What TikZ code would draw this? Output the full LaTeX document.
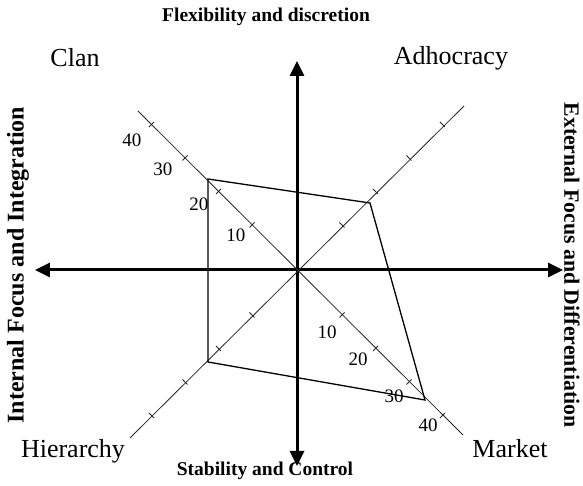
\documentclass[tikz,border=0pt]{standalone}
\usepackage{fontspec}
\setmainfont{Liberation Serif}
\usetikzlibrary{arrows.meta}

\tikzset{
  axis/.style = {line width=3pt, {Triangle[length=15pt,width=14pt]}-{Triangle[length=15pt,width=14pt]}},
  diag/.style = {line width=0.8pt, black!85},
  profile/.style = {line width=1.3pt},
  quad/.style = {font=\fontsize{26}{30}\selectfont, anchor=base},
  dimtitle/.style = {font=\bfseries\fontsize{19.5}{22}\selectfont, anchor=base},
  sidetitle/.style = {font=\bfseries\fontsize{#1}{26}\selectfont},
  num/.style = {font=\fontsize{19}{22}\selectfont}
}

\begin{document}
\begin{tikzpicture}[x=1pt, y=1pt]
\useasboundingbox (-297,-216) rectangle (286,270);
\coordinate (w) at (-262,0);
\coordinate (e) at (266,0);
\coordinate (n) at (0,209);
\coordinate (s) at (0,-196);
\draw[axis] (w) -- (e);
\draw[axis] (s) -- (n);
\coordinate (nw) at (-159,159);
\coordinate (se) at (166,-165);
\coordinate (sw) at (-167,-168);
\coordinate (ne) at (167,164);
\draw[diag] (nw) -- (se);
\draw[diag] (sw) -- (ne);
\foreach \d in {45,78.5,112,145.5} {
  \draw[diag] (-\d-2.5,\d-2.5) -- (-\d+2.5,\d+2.5);
  \draw[diag] (\d-2.5,-\d-2.5) -- (\d+2.5,-\d+2.5);
  \draw[diag] (\d-2.5,\d+2.5) -- (\d+2.5,\d-2.5);
  \draw[diag] (-\d-2.5,-\d+2.5) -- (-\d+2.5,-\d-2.5);
}
% culture profile
\coordinate (pclan) at (-89,91);
\coordinate (padh) at (73,67);
\coordinate (pmar) at (128,-130);
\coordinate (phie) at (-89,-92);
\draw[profile] (pclan) -- (padh) -- (pmar) -- (phie) -- cycle;
\node[num] (c10) at (-61,35) {10};
\node[num] (c20) at (-98,66) {20};
\node[num] (c30) at (-134,101) {30};
\node[num] (c40) at (-165,130) {40};
\node[num] (m10) at (30,-62) {10};
\node[num] (m20) at (61,-89) {20};
\node[num] (m30) at (97,-126) {30};
\node[num] (m40) at (131,-155) {40};
\node[quad] (clan) at (-222,203) {Clan};
\node[quad] (adh) at (154,205) {Adhocracy};
\node[quad] (hie) at (-224,-188) {Hierarchy};
\node[quad] (mar) at (213,-188) {Market};
\node[dimtitle] (flex) at (-31,248) {Flexibility and discretion};
\node[dimtitle] (stab) at (-32,-205) {Stability and Control};
\node[sidetitle=24, rotate=90] (intl) at (-279,5) {Internal Focus and Integration};
\node[sidetitle=21.8, rotate=-90] (extl) at (275,5) {External Focus and Differentiation};
\end{tikzpicture}
\end{document}
